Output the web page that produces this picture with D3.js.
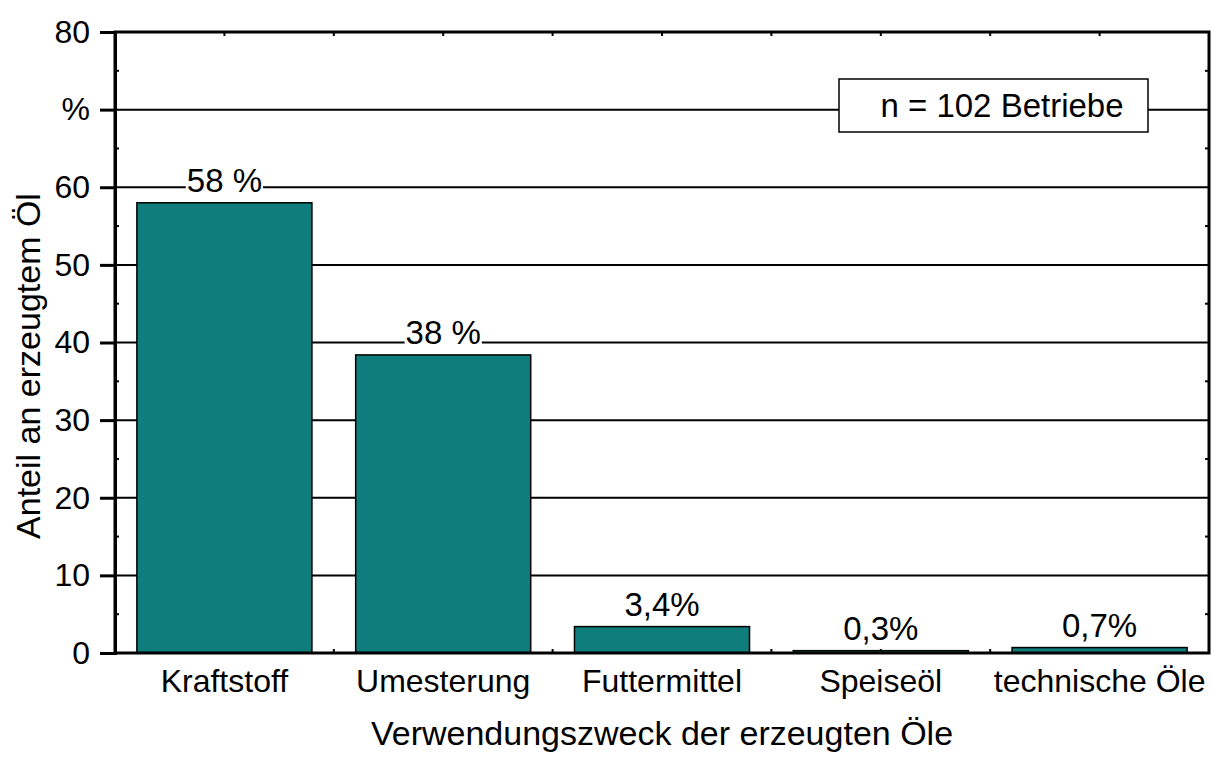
<!DOCTYPE html>
<html>
<head>
<meta charset="utf-8">
<script src="https://cdn.jsdelivr.net/npm/d3@7"></script>
<style>
  body { margin: 0; background: #fff; }
  text { font-family: "Liberation Sans", Arial, sans-serif; fill: #000; }
</style>
</head>
<body>
<svg id="chart" width="1211" height="758"></svg>
<script>
// chart data
const categories = ['Kraftstoff', 'Umesterung', 'Futtermittel', 'Speiseöl', 'technische Öle'];
const shares = [58, 38.4, 3.4, 0.3, 0.7];
const shareLabels = ['58 %', '38 %', '3,4%', '0,3%', '0,7%'];
const yTicks = [0, 10, 20, 30, 40, 50, 60, 70, 80];
const yTickLabels = ['0', '10', '20', '30', '40', '50', '60', '%', '80'];
const noteText = 'n = 102 Betriebe';

const svg = d3.select('#chart');
const margin = { top: 32, right: 2, bottom: 105, left: 115 };
const width = 1211, height = 758;
const x0 = margin.left, x1 = width - margin.right, y0 = height - margin.bottom, y1 = margin.top;

const x = d3.scaleBand().domain(categories).range([x0, x1]).padding(0);
const y = d3.scaleLinear().domain([0, 80]).range([y0, y1]);
const barW = x.bandwidth() * 0.8;

// gridlines
svg.append('g')
  .selectAll('line')
  .data(yTicks.filter(d => d > 0 && d < 80))
  .join('line')
  .attr('x1', x0).attr('x2', x1)
  .attr('y1', d => y(d)).attr('y2', d => y(d))
  .attr('stroke', '#000').attr('stroke-width', 2);

// minor y ticks (inward) on left and right
const minor = d3.range(5, 80, 10);
svg.append('g').selectAll('line').data(minor).join('line')
  .attr('x1', x0).attr('x2', x0 + 4)
  .attr('y1', d => y(d)).attr('y2', d => y(d))
  .attr('stroke', '#000').attr('stroke-width', 2);
svg.append('g').selectAll('line').data(minor).join('line')
  .attr('x1', x1 - 4).attr('x2', x1)
  .attr('y1', d => y(d)).attr('y2', d => y(d))
  .attr('stroke', '#000').attr('stroke-width', 2);

// x ticks at category centres and boundaries (inward, bottom and top)
const xTickPos = [];
categories.forEach((c, i) => {
  if (i > 0) xTickPos.push(x(c));
  xTickPos.push(x(c) + x.bandwidth() / 2);
});
svg.append('g').selectAll('line').data(xTickPos).join('line')
  .attr('x1', d => d).attr('x2', d => d)
  .attr('y1', y0).attr('y2', y0 - 4)
  .attr('stroke', '#000').attr('stroke-width', 2);
svg.append('g').selectAll('line').data(xTickPos).join('line')
  .attr('x1', d => d).attr('x2', d => d)
  .attr('y1', y1).attr('y2', y1 + 4)
  .attr('stroke', '#000').attr('stroke-width', 2);

// bars
svg.append('g')
  .selectAll('rect')
  .data(categories)
  .join('rect')
  .attr('x', d => x(d) + (x.bandwidth() - barW) / 2)
  .attr('width', barW)
  .attr('y', (d, i) => y(shares[i]))
  .attr('height', (d, i) => y0 - y(shares[i]))
  .attr('fill', '#0f7d7b')
  .attr('stroke', '#000')
  .attr('stroke-width', 1.5);

// frame
svg.append('rect')
  .attr('x', x0).attr('y', y1)
  .attr('width', x1 - x0).attr('height', y0 - y1)
  .attr('fill', 'none').attr('stroke', '#000').attr('stroke-width', 3);

// y axis
const yAxis = svg.append('g')
  .attr('transform', `translate(${x0},0)`)
  .call(d3.axisLeft(y).tickValues(yTicks).tickSize(15).tickPadding(10)
    .tickFormat((d, i) => yTickLabels[i]));
yAxis.select('.domain').attr('stroke-width', 3);
yAxis.selectAll('.tick line').attr('stroke-width', 3);
yAxis.selectAll('.tick text')
  .attr('font-size', 32)
  .style('font-family', '"Liberation Sans", Arial, sans-serif');

// x category labels
svg.append('g')
  .selectAll('text')
  .data(categories)
  .join('text')
  .attr('x', d => x(d) + x.bandwidth() / 2)
  .attr('y', y0 + 39)
  .attr('text-anchor', 'middle')
  .attr('font-size', 32)
  .text(d => d);

// value labels with white background
const labG = svg.append('g');
categories.forEach((c, i) => {
  const g = labG.append('g');
  const t = g.append('text')
    .attr('x', x(c) + x.bandwidth() / 2)
    .attr('y', y(shares[i]) - 11)
    .attr('text-anchor', 'middle')
    .attr('font-size', 33)
    .text(shareLabels[i]);
  const bb = t.node().getBBox();
  g.insert('rect', 'text')
    .attr('x', bb.x - 1).attr('y', bb.y + 4)
    .attr('width', bb.width + 2).attr('height', bb.height - 6)
    .attr('fill', '#fff');
});

// note box
const note = svg.append('g');
note.append('rect')
  .attr('x', 839).attr('y', 79).attr('width', 309).attr('height', 53)
  .attr('fill', '#fff').attr('stroke', '#000').attr('stroke-width', 1.5);
note.append('text')
  .attr('x', 1002).attr('y', 117)
  .attr('text-anchor', 'middle')
  .attr('font-size', 33)
  .text(noteText);

// axis titles
svg.append('text')
  .attr('x', (x0 + x1) / 2).attr('y', 745)
  .attr('text-anchor', 'middle')
  .attr('font-size', 34)
  .text('Verwendungszweck der erzeugten Öle');

svg.append('text')
  .attr('transform', 'translate(40,366) rotate(-90)')
  .attr('text-anchor', 'middle')
  .attr('font-size', 34)
  .text('Anteil an erzeugtem Öl');
</script>
</body>
</html>
